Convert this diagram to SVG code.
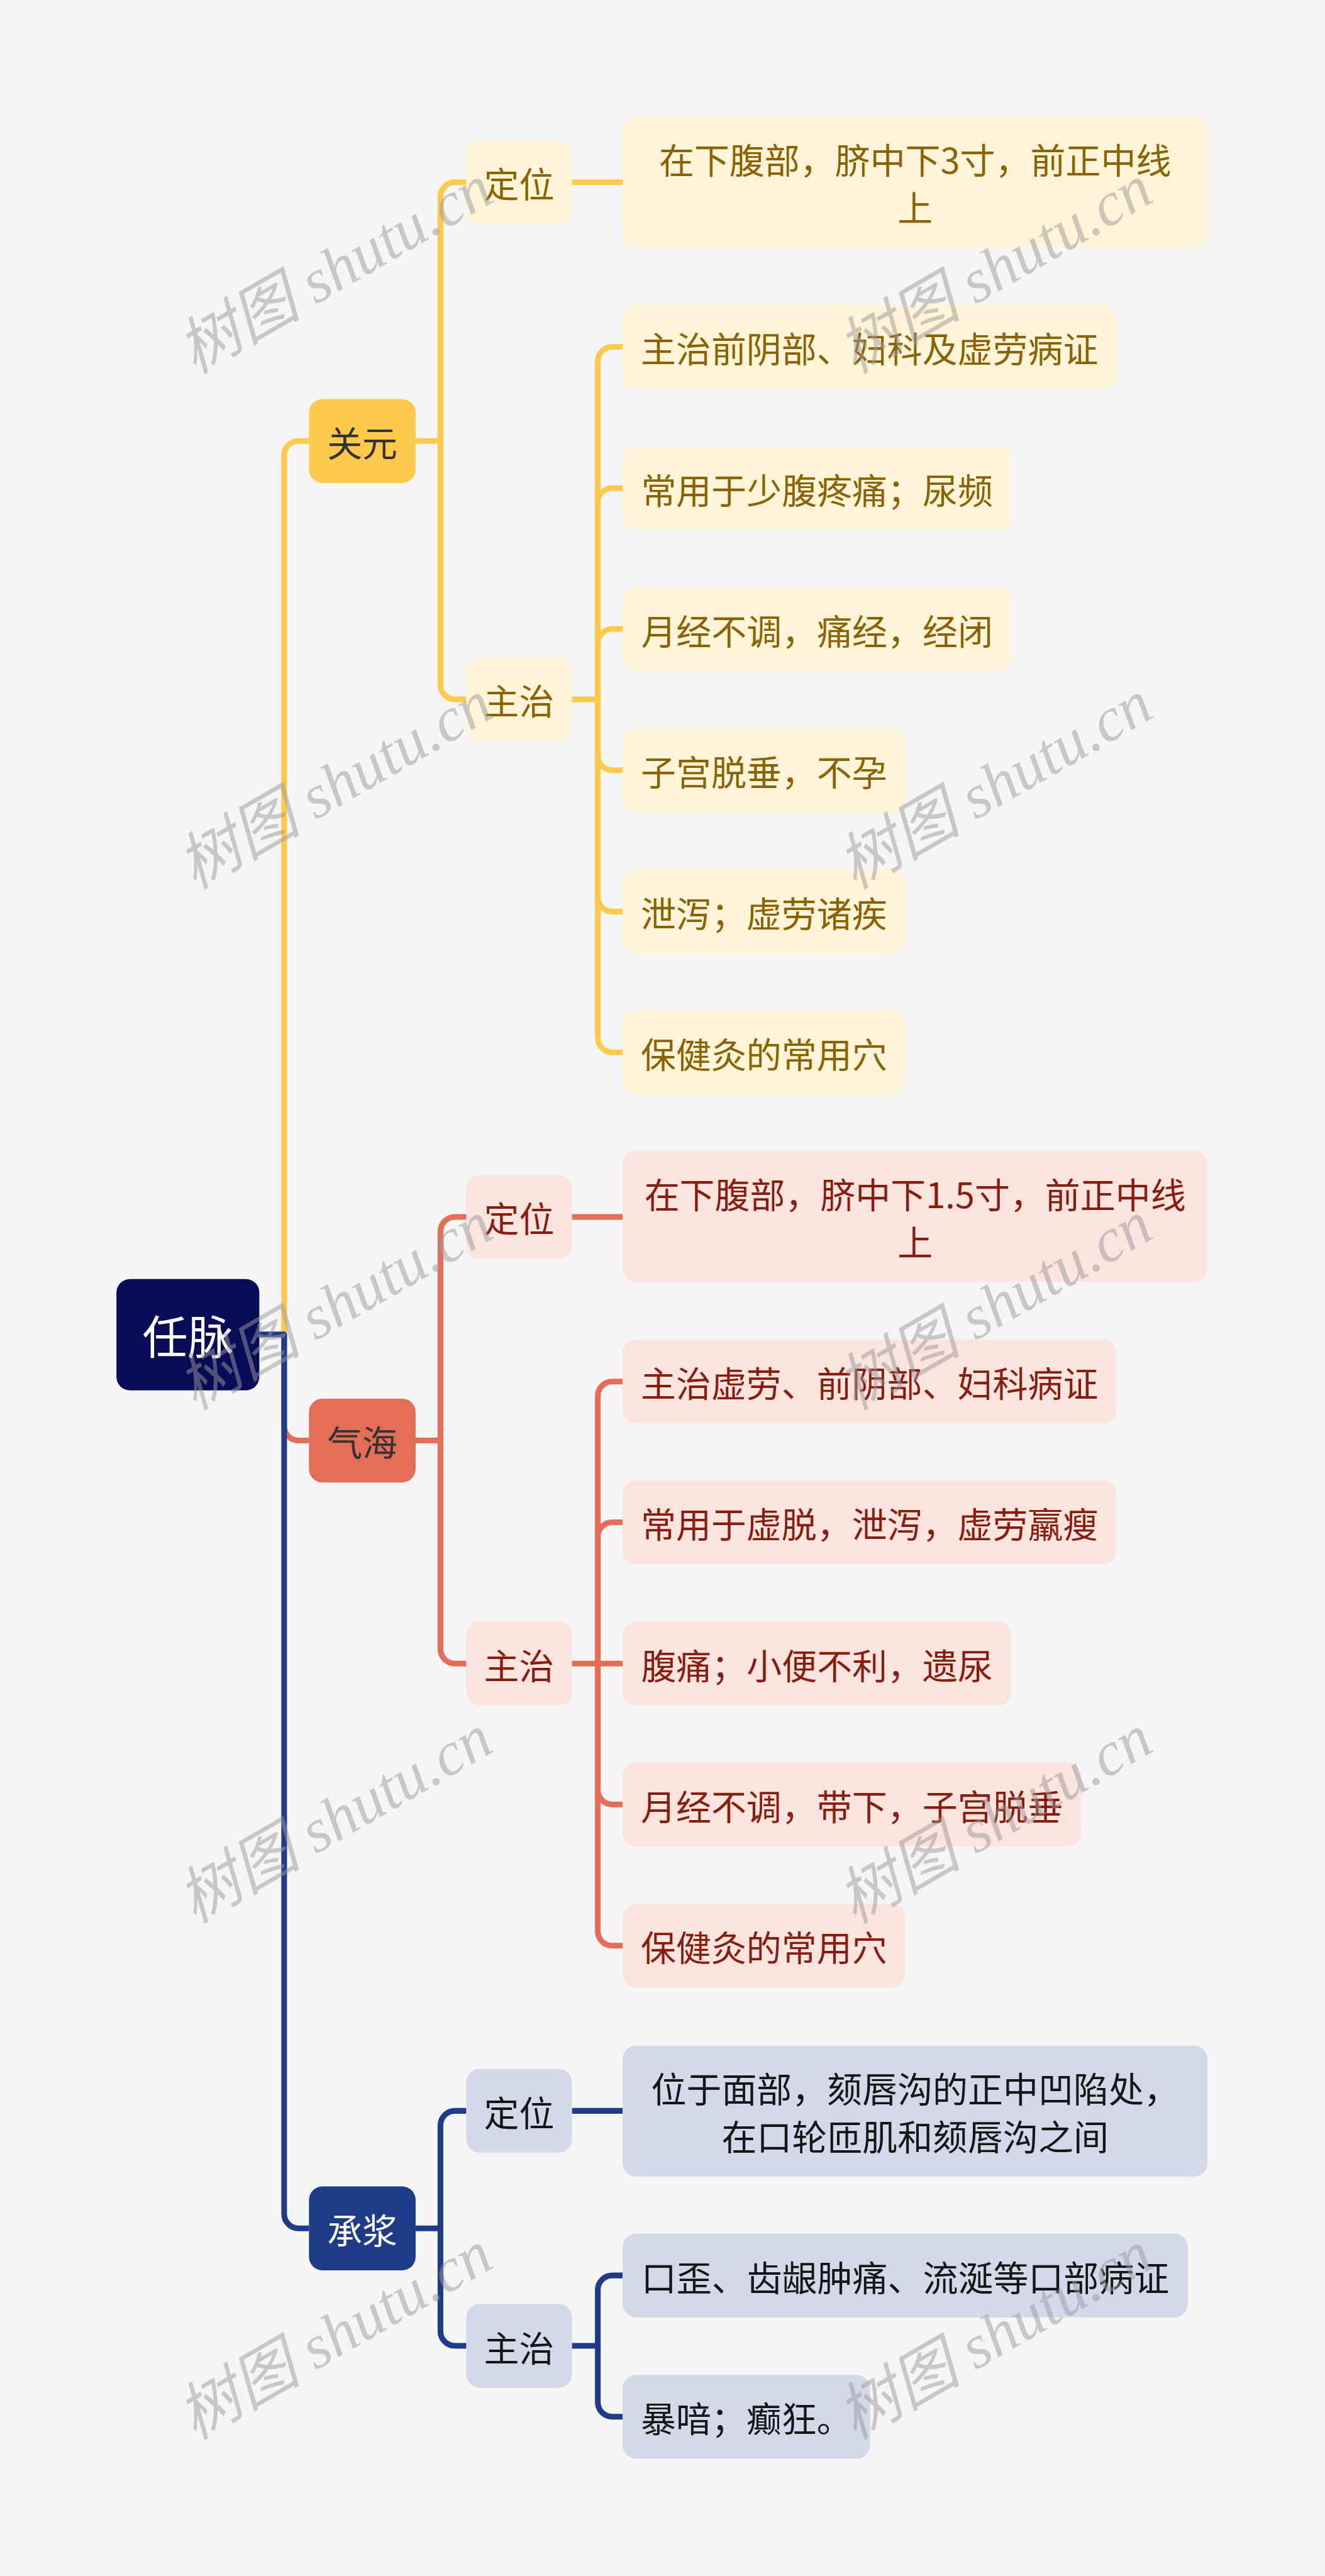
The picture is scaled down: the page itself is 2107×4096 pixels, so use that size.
<svg xmlns="http://www.w3.org/2000/svg" width="2107" height="4096" viewBox="0 0 2107 4096">
<style>
.c{fill:none;stroke-width:11;stroke-linecap:butt;stroke-linejoin:round}
.cy{stroke:#FFC94C}.cr{stroke:#E46D57}.cb{stroke:#1F3B87}
.t{font-family:"Noto Sans CJK SC","Noto Sans",sans-serif;text-anchor:middle;dominant-baseline:central;font-size:68px}
.rt{font-size:88px;fill:#FFFFFF}
.ty{fill:#8C6200}.tr{fill:#8A1C0E}.tb{fill:#151515}.td{fill:#333333}.tw{fill:#FFFFFF}
.fy{fill:#FFF3D8}.fr{fill:#FBE3DE}.fb{fill:#D3D9E8}
.wm{font-family:"Liberation Serif","Noto Sans CJK SC",serif;font-style:italic;font-size:120px;fill:#9A9A9A;fill-opacity:0.5;text-anchor:middle;dominant-baseline:central}
</style>
<rect x="0" y="0" width="2107" height="4096" fill="#F5F5F5"/>
<g transform="scale(0.82305)">
<g id="connectors">
<path class="c cy" d="M549,2578 V880 A28,28 0 0 1 577,852 H597"/>
<path class="c cr" d="M549,2578 V2755 A28,28 0 0 0 577,2783 H597"/>
<path class="c cb" d="M501,2578 H549 V4277 A28,28 0 0 0 577,4305 H597"/>
<!-- 关元 level 2 -->
<path class="c cy" d="M803,852 H851 V380 A28,28 0 0 1 879,352 H901"/>
<path class="c cy" d="M851,852 V1323 A28,28 0 0 0 879,1351 H901"/>
<path class="c cy" d="M1105,352 H1203"/>
<path class="c cy" d="M1105,1351 H1155 V698 A28,28 0 0 1 1183,670 H1203"/>
<path class="c cy" d="M1155,1351 V971 A28,28 0 0 1 1183,943 H1203"/>
<path class="c cy" d="M1155,1351 V1243 A28,28 0 0 1 1183,1215 H1203"/>
<path class="c cy" d="M1155,1351 V1460 A28,28 0 0 0 1183,1488 H1203"/>
<path class="c cy" d="M1155,1351 V1733 A28,28 0 0 0 1183,1761 H1203"/>
<path class="c cy" d="M1155,1351 V2005 A28,28 0 0 0 1183,2033 H1203"/>
<!-- 气海 -->
<path class="c cr" d="M803,2783 H851 V2379 A28,28 0 0 1 879,2351 H901"/>
<path class="c cr" d="M851,2783 V3186 A28,28 0 0 0 879,3214 H901"/>
<path class="c cr" d="M1105,2351 H1203"/>
<path class="c cr" d="M1105,3214 H1203"/>
<path class="c cr" d="M1155,3214 V2697 A28,28 0 0 1 1183,2669 H1203"/>
<path class="c cr" d="M1155,3214 V2969 A28,28 0 0 1 1183,2941 H1203"/>
<path class="c cr" d="M1155,3214 V3458 A28,28 0 0 0 1183,3486 H1203"/>
<path class="c cr" d="M1155,3214 V3731 A28,28 0 0 0 1183,3759 H1203"/>
<!-- 承浆 -->
<path class="c cb" d="M803,4305 H851 V4106 A28,28 0 0 1 879,4078 H901"/>
<path class="c cb" d="M851,4305 V4504 A28,28 0 0 0 879,4532 H901"/>
<path class="c cb" d="M1105,4078 H1203"/>
<path class="c cb" d="M1105,4532 H1155 V4424 A28,28 0 0 1 1183,4396 H1203"/>
<path class="c cb" d="M1155,4532 V4641 A28,28 0 0 0 1183,4669 H1203"/>
</g>

<g id="root"><rect x="225" y="2471" width="276" height="215" rx="26" fill="#080C56"/><text class="t rt" x="363" y="2578">任脉</text></g>

<g id="guanyuan"><rect x="597" y="771" width="206" height="162" rx="26" fill="#FFC94C"/><text class="t td" x="700" y="852">关元</text></g>
<g id="qihai"><rect x="597" y="2702" width="206" height="162" rx="26" fill="#E46D57"/><text class="t td" x="700" y="2783">气海</text></g>
<g id="chengjiang"><rect x="597" y="4224" width="206" height="162" rx="26" fill="#1F3B87"/><text class="t tw" x="700" y="4305">承浆</text></g>

<g id="gy-dingwei"><rect class="fy" x="901" y="271" width="204" height="162" rx="26"/><text class="t ty" x="1003" y="352">定位</text></g>
<g id="gy-zhuzhi"><rect class="fy" x="901" y="1270" width="204" height="162" rx="26"/><text class="t ty" x="1003" y="1351">主治</text></g>
<g id="qh-dingwei"><rect class="fr" x="901" y="2270" width="204" height="162" rx="26"/><text class="t tr" x="1003" y="2351">定位</text></g>
<g id="qh-zhuzhi"><rect class="fr" x="901" y="3133" width="204" height="162" rx="26"/><text class="t tr" x="1003" y="3214">主治</text></g>
<g id="cj-dingwei"><rect class="fb" x="901" y="3997" width="204" height="162" rx="26"/><text class="t tb" x="1003" y="4078">定位</text></g>
<g id="cj-zhuzhi"><rect class="fb" x="901" y="4451" width="204" height="162" rx="26"/><text class="t tb" x="1003" y="4532">主治</text></g>

<g id="gy-l1"><rect class="fy" x="1203" y="226" width="1130" height="252" rx="26"/><text class="t ty" x="1768" y="306">在下腹部，脐中下3寸，前正中线</text><text class="t ty" x="1768" y="398">上</text></g>
<g id="gy-l2"><rect class="fy" x="1203" y="589" width="954" height="162" rx="26"/><text class="t ty" x="1680" y="670">主治前阴部、妇科及虚劳病证</text></g>
<g id="gy-l3"><rect class="fy" x="1203" y="862" width="751" height="162" rx="26"/><text class="t ty" x="1578.5" y="943">常用于少腹疼痛；尿频</text></g>
<g id="gy-l4"><rect class="fy" x="1203" y="1134" width="751" height="162" rx="26"/><text class="t ty" x="1578.5" y="1215">月经不调，痛经，经闭</text></g>
<g id="gy-l5"><rect class="fy" x="1203" y="1407" width="546" height="162" rx="26"/><text class="t ty" x="1476" y="1488">子宫脱垂，不孕</text></g>
<g id="gy-l6"><rect class="fy" x="1203" y="1680" width="546" height="162" rx="26"/><text class="t ty" x="1476" y="1761">泄泻；虚劳诸疾</text></g>
<g id="gy-l7"><rect class="fy" x="1203" y="1952" width="546" height="162" rx="26"/><text class="t ty" x="1476" y="2033">保健灸的常用穴</text></g>

<g id="qh-l1"><rect class="fr" x="1203" y="2224" width="1130" height="252" rx="26"/><text class="t tr" x="1768" y="2304">在下腹部，脐中下1.5寸，前正中线</text><text class="t tr" x="1768" y="2396">上</text></g>
<g id="qh-l2"><rect class="fr" x="1203" y="2588" width="954" height="162" rx="26"/><text class="t tr" x="1680" y="2669">主治虚劳、前阴部、妇科病证</text></g>
<g id="qh-l3"><rect class="fr" x="1203" y="2860" width="954" height="162" rx="26"/><text class="t tr" x="1680" y="2941">常用于虚脱，泄泻，虚劳羸瘦</text></g>
<g id="qh-l4"><rect class="fr" x="1203" y="3133" width="751" height="162" rx="26"/><text class="t tr" x="1578.5" y="3214">腹痛；小便不利，遗尿</text></g>
<g id="qh-l5"><rect class="fr" x="1203" y="3405" width="886" height="162" rx="26"/><text class="t tr" x="1646" y="3486">月经不调，带下，子宫脱垂</text></g>
<g id="qh-l6"><rect class="fr" x="1203" y="3678" width="546" height="162" rx="26"/><text class="t tr" x="1476" y="3759">保健灸的常用穴</text></g>

<g id="cj-l1"><rect class="fb" x="1203" y="3952" width="1130" height="253" rx="26"/><text class="t tb" x="1768" y="4032">位于面部，颏唇沟的正中凹陷处，</text><text class="t tb" x="1768" y="4124">在口轮匝肌和颏唇沟之间</text></g>
<g id="cj-l2"><rect class="fb" x="1203" y="4315" width="1092" height="162" rx="26"/><text class="t tb" x="1749" y="4396">口歪、齿龈肿痛、流涎等口部病证</text></g>
<g id="cj-l3"><rect class="fb" x="1203" y="4588" width="478" height="162" rx="26"/><text class="t tb" x="1442" y="4669">暴喑；癫狂。</text></g>

<g id="watermark">
<text class="wm" x="647" y="520" transform="rotate(-30 647 520)">树图 shutu.cn</text>
<text class="wm" x="1922" y="520" transform="rotate(-30 1922 520)">树图 shutu.cn</text>
<text class="wm" x="647" y="1516" transform="rotate(-30 647 1516)">树图 shutu.cn</text>
<text class="wm" x="1922" y="1516" transform="rotate(-30 1922 1516)">树图 shutu.cn</text>
<text class="wm" x="647" y="2522" transform="rotate(-30 647 2522)">树图 shutu.cn</text>
<text class="wm" x="1922" y="2522" transform="rotate(-30 1922 2522)">树图 shutu.cn</text>
<text class="wm" x="647" y="3514" transform="rotate(-30 647 3514)">树图 shutu.cn</text>
<text class="wm" x="1922" y="3514" transform="rotate(-30 1922 3514)">树图 shutu.cn</text>
<text class="wm" x="647" y="4511" transform="rotate(-30 647 4511)">树图 shutu.cn</text>
<text class="wm" x="1922" y="4511" transform="rotate(-30 1922 4511)">树图 shutu.cn</text>
</g>
</g>
</svg>
